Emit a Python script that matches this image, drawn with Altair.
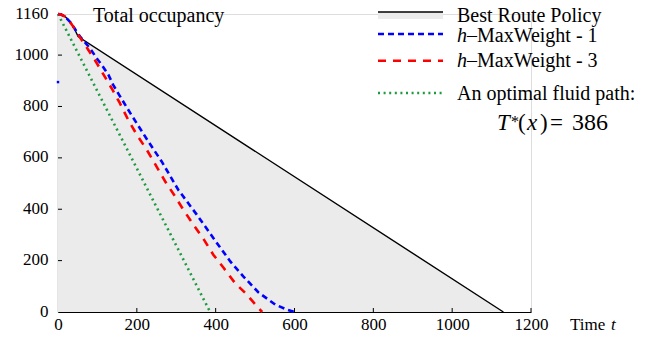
import altair as alt
import pandas as pd

# ---- data ----
best_t = [0, 8, 18, 30, 40, 51, 1130]
best_y = [1160, 1158, 1150, 1132, 1108, 1072, 0]

mw1_t = [0, 8, 18, 30, 40, 56, 81, 98, 111, 128, 140, 152, 183, 229, 263, 305, 352, 403, 437, 470, 508, 551, 580, 600]
mw1_y = [1160, 1158, 1150, 1130, 1108, 1072, 1027, 988, 962, 923, 884, 853, 775, 664, 586, 476, 379, 269, 197, 139, 77, 29, 10, 0]

mw3_t = [0, 8, 18, 30, 40, 56, 75, 94, 111, 136, 157, 178, 200, 225, 272, 297, 318, 343, 373, 394, 420, 449, 479, 508, 518]
mw3_y = [1160, 1158, 1150, 1130, 1108, 1068, 1025, 980, 936, 871, 813, 748, 690, 632, 508, 450, 398, 341, 275, 223, 172, 113, 68, 16, 0]

fluid_t = [0, 386]
fluid_y = [1160, 0]

stray_t = [0]
stray_y = [895]

x_ticks = [0, 200, 400, 600, 800, 1000, 1200]
y_ticks = [0, 200, 400, 600, 800, 1000, 1160]

W, H = 473, 298
SERIF = "Liberation Serif, Times New Roman, Times, serif"

xs = alt.Scale(domain=[0, 1200], nice=False, zero=False)
ys = alt.Scale(domain=[0, 1160], nice=False, zero=False)

best = pd.DataFrame({"t": best_t, "y": best_y})
mw1 = pd.DataFrame({"t": mw1_t, "y": mw1_y})
mw3 = pd.DataFrame({"t": mw3_t, "y": mw3_y})
fluid = pd.DataFrame({"t": fluid_t, "y": fluid_y})
stray = pd.DataFrame({"t": stray_t, "y": stray_y})

xaxis = alt.Axis(values=x_ticks, title=None, grid=False, ticks=False, tickSize=0, format="d",
                 labelFont=SERIF, labelFontSize=17, labelColor="black", labelPadding=4,
                 labelFlush=False, domainColor="black", domainWidth=1.2)
yaxis = alt.Axis(values=y_ticks, title=None, grid=False, ticks=False, tickSize=0, format="d",
                 labelFont=SERIF, labelFontSize=17, labelColor="black", labelPadding=10,
                 labelFlush=False, labelOffset=-1, domainColor="black", domainWidth=1.2)

area = alt.Chart(best).mark_area(color="#ebebeb", opacity=1).encode(
    x=alt.X("t:Q", scale=xs, axis=xaxis), y=alt.Y("y:Q", scale=ys, axis=yaxis))
best_line = alt.Chart(best).mark_line(color="black", strokeWidth=1.4).encode(
    x=alt.X("t:Q", scale=xs), y=alt.Y("y:Q", scale=ys))
fluid_line = alt.Chart(fluid).mark_line(color="#1e9a40", strokeWidth=2.6, strokeDash=[2, 3.6]).encode(
    x=alt.X("t:Q", scale=xs), y=alt.Y("y:Q", scale=ys))
mw1_line = alt.Chart(mw1).mark_line(color="#0000ff", strokeWidth=2.6, strokeDash=[6, 4]).encode(
    x=alt.X("t:Q", scale=xs), y=alt.Y("y:Q", scale=ys))
mw3_line = alt.Chart(mw3).mark_line(color="#ff0000", strokeWidth=2.6, strokeDash=[8, 7]).encode(
    x=alt.X("t:Q", scale=xs), y=alt.Y("y:Q", scale=ys))
stray_pt = alt.Chart(stray).mark_point(shape="square", filled=True, size=6, color="#0000ff", opacity=1).encode(
    x=alt.X("t:Q", scale=xs), y=alt.Y("y:Q", scale=ys))

xt = pd.DataFrame({"v": x_ticks[1:]})
yt = pd.DataFrame({"v": y_ticks[1:]})
xtick_marks = alt.Chart(xt).mark_rule(color="black", strokeWidth=1).encode(
    x=alt.X("v:Q", scale=xs), y=alt.value(H), y2=alt.value(H - 4))
ytick_marks = alt.Chart(yt).mark_rule(color="black", strokeWidth=1).encode(
    y=alt.Y("v:Q", scale=ys), x=alt.value(0), x2=alt.value(4))

one = alt.Data(values=[{}])


def txt(s, x, y, size=20, style="normal", align="left"):
    return alt.Chart(one).mark_text(font=SERIF, fontSize=size, fontStyle=style, align=align,
                                    baseline="alphabetic", color="black").encode(
        x=alt.value(x), y=alt.value(y), text=alt.value(s))


def lrule(y, color, width, dash=None):
    kw = dict(color=color, strokeWidth=width)
    if dash:
        kw["strokeDash"] = dash
    return alt.Chart(one).mark_rule(**kw).encode(x=alt.value(320), x2=alt.value(385), y=alt.value(y))


leg_rect = alt.Chart(one).mark_rect(color="#ebebeb").encode(
    x=alt.value(320), x2=alt.value(385), y=alt.value(-2), y2=alt.value(5))

layers = [
    area, xtick_marks, ytick_marks, best_line, fluid_line, mw1_line, mw3_line, stray_pt,
    txt("Total occupancy", 35, 8),
    leg_rect, lrule(-2, "black", 1.4),
    lrule(20, "#0000ff", 2.6, [6, 4]),
    lrule(46.7, "#ff0000", 2.6, [8, 7]),
    lrule(79, "#1e9a40", 2.6, [2, 3.6]),
    txt("Best Route Policy", 399, 7.5),
    txt("h", 399, 27.7, style="italic"), txt("\u2013MaxWeight - 1", 409, 27.7),
    txt("h", 399, 52.7, style="italic"), txt("\u2013MaxWeight - 3", 409, 52.7),
    txt("An optimal fluid path:", 399, 86),
    txt("T", 439, 116, size=23, style="italic"),
    txt("*", 453, 113, size=16),
    txt("(", 460, 116, size=23), txt("x", 469, 116, size=23, style="italic"), txt(")", 482, 116, size=23),
    txt("=", 492, 116, size=23), txt("386", 514, 116, size=24),
    txt("Time", 512, 316, size=17), txt("t", 553, 316, size=17, style="italic"),
]

chart = alt.layer(*layers).properties(
    width=W, height=H,
    autosize=alt.AutoSizeParams(type="none"),
    padding={"left": 50, "top": 6, "right": 107, "bottom": 19},
).configure_view(stroke=None).configure(background="white")

chart.save("out.html", embed_options={"renderer": "svg", "actions": False})
